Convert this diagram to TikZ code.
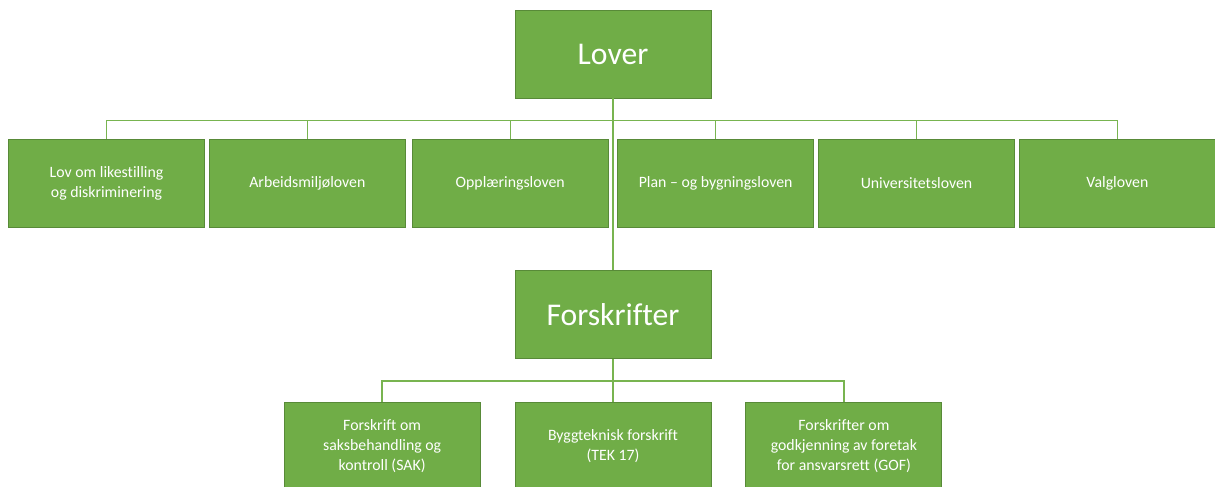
\documentclass[tikz,border=0pt]{standalone}
\usepackage{fontspec}
\setmainfont{Carlito}[Ligatures=NoCommon]
\usetikzlibrary{positioning}
\definecolor{bg1}{RGB}{112,173,71}
\definecolor{bd1}{RGB}{88,138,56}
\definecolor{l1}{RGB}{120,180,80}

\begin{document}
\begin{tikzpicture}[
    font=\fontsize{9}{11.3}\selectfont,
    l/.style={
        line width=0.8pt,
        color=l1
    },
    e/.style={
        minimum width=3.92cm, minimum height=1.76cm,
        fill=bg1, draw=bd1, line width=0.5pt,
        text=white, align=center, inner sep=2pt
    },
    big/.style={e, font=\fontsize{18}{21}\selectfont}
]
\useasboundingbox (0,0) rectangle (24.3,-9.72);
\clip (0,0) rectangle (24.3,-9.72);

\node [big] (Lover) at (12.26,-1.08) {Lover};

\node [e] (LL) at (2.13,-3.66) {Lov om likestilling\\og diskriminering};
\node [e,right=0.08cm of LL] (AM) {Arbeidsmiljøloven};
\node [e,right=0.12cm of AM] (OP) {Opplæringsloven};
\node [e,right=0.17cm of OP] (PB) {Plan – og bygningsloven};
\node [e,right=0.08cm of PB] (UN) {Universitetsloven};
\node [e,right=0.08cm of UN] (VA) {Valgloven};

\node [big] (Forsk) at (12.26,-6.29) {Forskrifter};
\node [e,below=0.86cm of Forsk] (TEK) {Byggteknisk forskrift\\(TEK 17)};
\node [e,left=0.68cm of TEK] (SAK) {Forskrift om\\saksbehandling og\\kontroll (SAK)};
\node [e,right=0.68cm of TEK] (GOF) {Forskrifter om\\godkjenning av foretak\\for ansvarsrett (GOF)};

\draw [l] (Lover) -- (Forsk);
\draw [l] (Lover.south) -- ++(0,-0.44) -| (LL.north);
\draw [l] (Lover.south) -- ++(0,-0.44) -| (AM.north);
\draw [l] (Lover.south) -- ++(0,-0.44) -| (OP.north);
\draw [l] (Lover.south) -- ++(0,-0.44) -| (PB.north);
\draw [l] (Lover.south) -- ++(0,-0.44) -| (UN.north);
\draw [l] (Lover.south) -- ++(0,-0.44) -| (VA.north);

\draw [l] (Forsk.south) -- ++(0,-0.44) -| (SAK.north);
\draw [l] (Forsk) -- (TEK);
\draw [l] (Forsk.south) -- ++(0,-0.44) -| (GOF.north);

\end{tikzpicture}
\end{document}
